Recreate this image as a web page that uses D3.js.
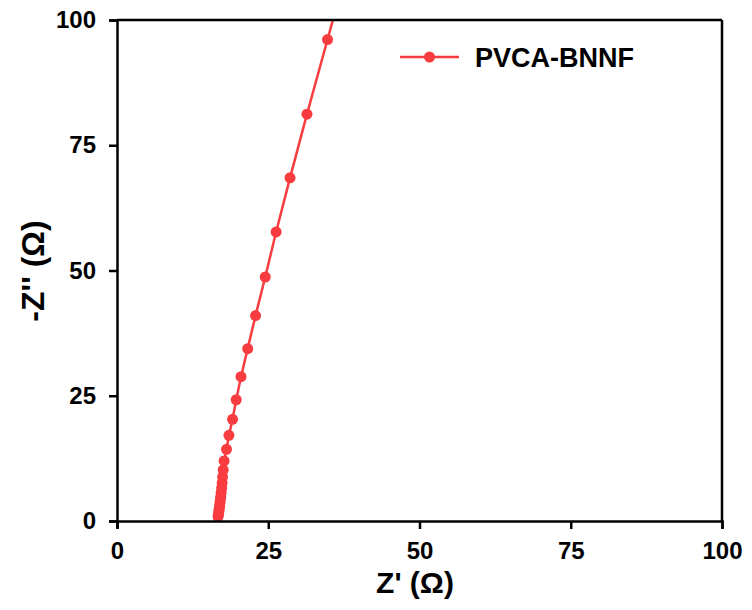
<!DOCTYPE html>
<html>
<head>
<meta charset="utf-8">
<script src="https://cdn.jsdelivr.net/npm/d3@7"></script>
<style>
  body { margin: 0; background: #fff; }
  svg { display: block; font-family: Arial, "Liberation Sans", sans-serif; }
</style>
</head>
<body>
<svg id="chart" width="752" height="610"></svg>
<script>
// Nyquist data for PVCA-BNNF (Z', -Z'')
const zReal = [16.7, 16.75, 16.8, 16.85, 16.9, 16.96, 17.02, 17.08, 17.15, 17.22, 17.3, 17.38, 17.45, 17.55,
  17.7, 18.1, 18.5, 19.1, 19.7, 20.5, 21.6, 22.9, 24.5, 26.3, 28.6, 31.4, 34.8, 38.4];
const zImag = [0.9, 1.2, 1.6, 2.0, 2.5, 3.0, 3.6, 4.2, 4.9, 5.7, 6.6, 7.6, 8.8, 10.2,
  12.0, 14.3, 17.1, 20.3, 24.2, 28.8, 34.4, 41.0, 48.7, 57.7, 68.5, 81.2, 96.1, 112];
const xTicks = [0, 25, 50, 75, 100];
const yTicks = [0, 25, 50, 75, 100];
const seriesName = "PVCA-BNNF";
const red = "#f83c3f";

const margin = { top: 20, right: 30, bottom: 89, left: 117 };
const width = 752 - margin.left - margin.right;
const height = 610 - margin.top - margin.bottom;

const svg = d3.select("#chart");
const g = svg.append("g").attr("transform", `translate(${margin.left}, ${margin.top})`);

const x = d3.scaleLinear().domain([0, 100]).range([0, width]);
const y = d3.scaleLinear().domain([0, 100]).range([height, 0]);

svg.append("defs").append("clipPath").attr("id", "clip")
  .append("rect").attr("width", width).attr("height", height);

const data = zReal.map((v, i) => ({ x: v, y: zImag[i] }));

const plot = g.append("g").attr("clip-path", "url(#clip)");
plot.append("path")
  .datum(data)
  .attr("fill", "none")
  .attr("stroke", red)
  .attr("stroke-width", 2.5)
  .attr("d", d3.line().x(d => x(d.x)).y(d => y(d.y)));
plot.selectAll("circle")
  .data(data)
  .enter()
  .append("circle")
  .attr("cx", d => x(d.x))
  .attr("cy", d => y(d.y))
  .attr("r", 5.5)
  .attr("fill", red);

// minor ticks
const minor = [12.5, 37.5, 62.5, 87.5];
const xAxisG = g.append("g").attr("transform", `translate(0, ${height})`);
xAxisG.call(d3.axisBottom(x).tickValues(minor).tickSize(5).tickFormat(""));
xAxisG.call(d3.axisBottom(x).tickValues(xTicks).tickSize(8).tickPadding(13).tickFormat(d3.format("d")));
const yAxisG = g.append("g");
yAxisG.call(d3.axisLeft(y).tickValues(minor).tickSize(5).tickFormat(""));
yAxisG.call(d3.axisLeft(y).tickValues(yTicks).tickSize(8).tickPadding(13).tickFormat(d3.format("d")));

g.selectAll(".domain").attr("stroke", "#000").attr("stroke-width", 2.5);
g.selectAll(".tick line").attr("stroke", "#000").attr("stroke-width", 2.5);
g.selectAll(".tick text")
  .attr("fill", "#000")
  .style("font-size", "24px")
  .style("font-weight", "bold");

// frame top / right
g.append("line").attr("x1", 0).attr("x2", width).attr("y1", 0).attr("y2", 0)
  .attr("stroke", "#000").attr("stroke-width", 2.5);
g.append("line").attr("x1", width).attr("x2", width).attr("y1", 0).attr("y2", height)
  .attr("stroke", "#000").attr("stroke-width", 2.5);

// axis titles
svg.append("text")
  .attr("x", 415)
  .attr("y", 593)
  .attr("text-anchor", "middle")
  .style("font-size", "30px")
  .style("font-weight", "bold")
  .text("Z' (Ω)");
svg.append("text")
  .attr("transform", `translate(44, 271) rotate(-90)`)
  .attr("text-anchor", "middle")
  .style("font-size", "32px")
  .style("font-weight", "bold")
  .text("-Z'' (Ω)");

// legend
const leg = svg.append("g").attr("transform", "translate(400, 57)");
leg.append("line").attr("x1", 0).attr("x2", 59).attr("y1", 0).attr("y2", 0)
  .attr("stroke", red).attr("stroke-width", 2.5);
leg.append("circle").attr("cx", 29.5).attr("cy", 0).attr("r", 5.5).attr("fill", red);
leg.append("text")
  .attr("x", 75)
  .attr("y", 10)
  .style("font-size", "27px")
  .style("font-weight", "bold")
  .text(seriesName);
</script>
</body>
</html>
